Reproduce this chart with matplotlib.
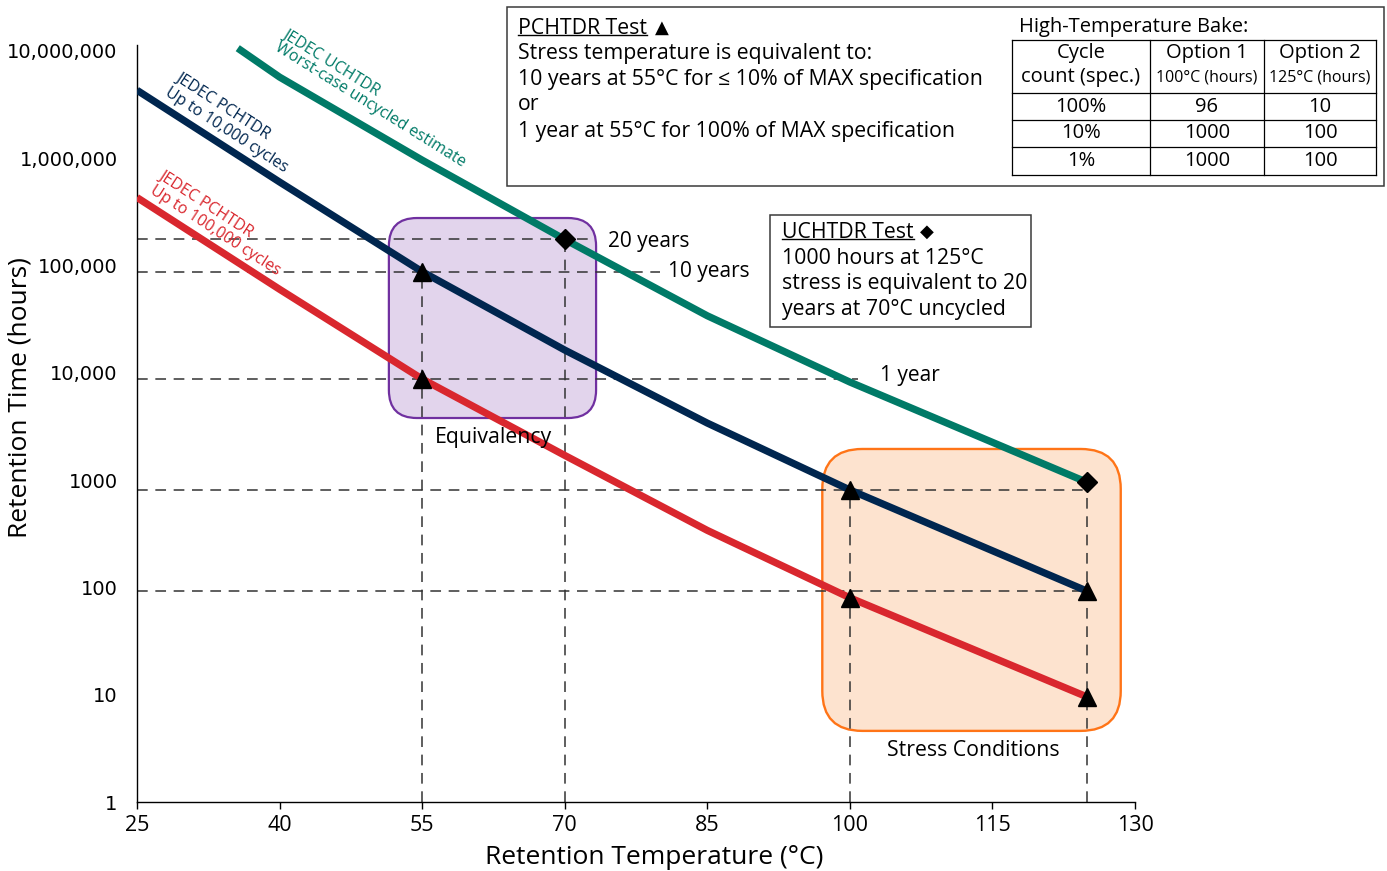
import matplotlib
matplotlib.use('Agg')
import matplotlib.pyplot as plt
from matplotlib.patches import FancyBboxPatch, Rectangle
from matplotlib.lines import Line2D
from matplotlib.transforms import IdentityTransform

plt.rcParams['font.family'] = ['Open Sans', 'DejaVu Sans']

W, H = 1387, 871

# retention curves (temperature in degC, retention in hours)
uch_temp = [35.6, 40, 55, 70, 85, 100, 125]
uch_hours = [1.06e7, 5.7e6, 9.6e5, 1.75e5, 3.4e4, 8200, 950]
pc10k_temp = [25, 40, 55, 70, 85, 100, 125]
pc10k_hours = [4.3e6, 6.0e5, 8.76e4, 1.63e4, 3400, 810, 92]
pc100k_temp = [25, 40, 55, 70, 85, 100, 125]
pc100k_hours = [4.3e5, 6.0e4, 8760, 1700, 340, 80, 9.5]

# test points
tri_temp = [55, 55, 100, 100, 125, 125]
tri_hours = [8.76e4, 8760, 810, 80, 92, 9.5]
dia_temp = [70, 125]
dia_hours = [1.75e5, 950]

# guide lines
hguide_hours = [1.752e5, 8.76e4, 8760, 810, 92]
hguide_end = [73.2, 80.0, 100.9, 125, 125]
vguide_temp = [55, 70, 100, 125]
vguide_top = [8.76e4, 1.75e5, 810, 950]

yticks = [1, 10, 100, 1000, 1e4, 1e5, 1e6, 1e7]
ytick_labels = ['1', '10', '100', '1000', '10,000', '100,000', '1,000,000', '10,000,000']
xticks = [25, 40, 55, 70, 85, 100, 115, 130]

# bake table
bake_head = ['Cycle', 'Option 1', 'Option 2']
bake_sub = ['count (spec.)', '100°C (hours)', '125°C (hours)']
bake_rows = [['100%', '96', '10'], ['10%', '1000', '100'], ['1%', '1000', '100']]

TEAL = '#007A67'
NAVY = '#00264F'
RED = '#D9272E'


def fpx(x, y):
    return (x / W, 1 - y / H)


fig = plt.figure(figsize=(W / 100, H / 100), dpi=100)
ax = fig.add_axes([137 / W, 1 - 802 / H, (1135 - 137) / W, (802 - 45) / H])
ax.set_yscale('log')
ax.set_xlim(25, 130)
ax.set_ylim(1, 1.135e7)

for s in ['top', 'right']:
    ax.spines[s].set_visible(False)
for s in ['left', 'bottom']:
    ax.spines[s].set_linewidth(1.0)

ax.set_yticks(yticks)
ax.set_yticklabels(ytick_labels, family='DejaVu Sans', fontsize=14)
ax.yaxis.set_minor_locator(matplotlib.ticker.NullLocator())
ax.tick_params(axis='y', length=0, pad=14)
ax.set_xticks(xticks)
ax.tick_params(axis='x', length=5, width=1, labelsize=15.5, pad=4)
fig.text(*fpx(654, 857), 'Retention Temperature (°C)', fontsize=19,
         ha='center', va='center')
fig.text(*fpx(20, 398), 'Retention Time (hours)', fontsize=19, rotation=90,
         ha='center', va='center')

# rounded highlight boxes (drawn in pixel space so corners stay round)
def round_box(x0, x1, y0, y1, r, fc, ec, lw):
    (px0, py0) = ax.transData.transform((x0, y0))
    (px1, py1) = ax.transData.transform((x1, y1))
    p = FancyBboxPatch((px0, py0), px1 - px0, py1 - py0,
                       boxstyle='round,pad=0,rounding_size=%d' % r,
                       fc=fc, ec=ec, lw=lw, transform=IdentityTransform(),
                       zorder=1, clip_on=False)
    ax.add_patch(p)

round_box(51.5, 73.3, 3790, 2.77e5, 28, '#E2D4EC', '#7030A0', 1.6)
round_box(97.1, 128.5, 4.6, 1950, 40, '#FDE3CF', '#FF7417', 1.7)

dash_kw = dict(color='#333333', lw=1.1, dashes=(7, 5), zorder=2)
for yv, xe in zip(hguide_hours, hguide_end):
    ax.plot([25, xe], [yv, yv], **dash_kw)
for xv, yt in zip(vguide_temp, vguide_top):
    ax.plot([xv, xv], [1, yt], **dash_kw)

ax.plot(uch_temp, uch_hours, color=TEAL, lw=5.2, solid_capstyle='butt', zorder=3)
ax.plot(pc10k_temp, pc10k_hours, color=NAVY, lw=5.2, solid_capstyle='butt', zorder=3)
ax.plot(pc100k_temp, pc100k_hours, color=RED, lw=5.2, solid_capstyle='butt', zorder=3)

ax.plot(tri_temp, tri_hours, '^', color='black', ms=13, zorder=5, clip_on=False)
ax.plot(dia_temp, dia_hours, 'D', color='black', ms=10.5, zorder=5, clip_on=False)

# curve labels
rot = dict(rotation_mode='anchor', ha='left', va='center', fontsize=11.5)
fig.text(*fpx(284, 33), 'JEDEC UCHTDR', color=TEAL, rotation=-32, **rot)
fig.text(*fpx(276, 46), 'Worst-case uncycled estimate', color=TEAL, rotation=-32, **rot)
fig.text(*fpx(177, 76), 'JEDEC PCHTDR', color=NAVY, rotation=-33, **rot)
fig.text(*fpx(166, 91), 'Up to 10,000 cycles', color=NAVY, rotation=-33, **rot)
fig.text(*fpx(160, 174), 'JEDEC PCHTDR', color=RED, rotation=-33, **rot)
fig.text(*fpx(151, 189), 'Up to 100,000 cycles', color=RED, rotation=-33, **rot)

fig.text(*fpx(608, 242), '20 years', fontsize=15, va='center')
fig.text(*fpx(668, 271), '10 years', fontsize=15, va='center')
fig.text(*fpx(880, 375), '1 year', fontsize=15, va='center')
fig.text(*fpx(493, 437), 'Equivalency', fontsize=15.3, ha='center', va='center')
fig.text(*fpx(973, 750), 'Stress Conditions', fontsize=15.3, ha='center', va='center')

# PCHTDR box
fig.add_artist(Rectangle(fpx(507, 186), (1384 - 507) / W, (186 - 7) / H,
                         transform=fig.transFigure, fill=False, ec='#3a3a3a', lw=1.1))
t_pc = fig.text(*fpx(518, 28), 'PCHTDR Test', fontsize=15.3, va='center')
fig.text(*fpx(655, 28), '▲', fontsize=13, va='center', family='DejaVu Sans')
pc_lines = ['Stress temperature is equivalent to:',
            '10 years at 55°C for ≤ 10% of MAX specification',
            'or',
            '1 year at 55°C for 100% of MAX specification']
for i, s in enumerate(pc_lines):
    fig.text(*fpx(518, 53 + 26 * i), s, fontsize=15.3, va='center')

fig.text(*fpx(1134, 27), 'High-Temperature Bake:', fontsize=14.5, ha='center', va='center')
col_x = [1012, 1150, 1264, 1376]
row_y = [40, 93, 120, 147, 175]
for x in col_x:
    fig.add_artist(Line2D([x / W, x / W], [1 - row_y[0] / H, 1 - row_y[-1] / H],
                          transform=fig.transFigure, color='black', lw=0.9))
for y in row_y:
    fig.add_artist(Line2D([col_x[0] / W, col_x[-1] / W], [1 - y / H, 1 - y / H],
                          transform=fig.transFigure, color='black', lw=0.9))
for j in range(3):
    cx = (col_x[j] + col_x[j + 1]) / 2
    fig.text(*fpx(cx, 53), bake_head[j], fontsize=14.5, ha='center', va='center')
    fig.text(*fpx(cx, 77), bake_sub[j], fontsize=14.5 if j == 0 else 11.5,
             ha='center', va='center')
    for i, row in enumerate(bake_rows):
        cy = (row_y[i + 1] + row_y[i + 2]) / 2
        fig.text(*fpx(cx, cy), row[j], fontsize=14.5, ha='center', va='center')

# UCHTDR box
fig.add_artist(Rectangle(fpx(770, 327), (1031 - 770) / W, (327 - 215) / H,
                         transform=fig.transFigure, fill=False, ec='#3a3a3a', lw=1.1))
t_uc = fig.text(*fpx(782, 232), 'UCHTDR Test', fontsize=15.3, va='center')
fig.text(*fpx(920, 232), '◆', fontsize=13, va='center', family='DejaVu Sans')
uc_lines = ['1000 hours at 125°C', 'stress is equivalent to 20', 'years at 70°C uncycled']
for i, s in enumerate(uc_lines):
    fig.text(*fpx(782, 258 + 26 * i), s, fontsize=15.3, va='center')

# underline the box titles
fig.canvas.draw()
r = fig.canvas.get_renderer()
for t in [t_pc, t_uc]:
    bb = t.get_window_extent(r)
    fig.add_artist(Line2D([bb.x0, bb.x1], [bb.y0 + 3, bb.y0 + 3],
                          transform=IdentityTransform(), color='black', lw=1.0))

fig.savefig('out.png', dpi=100)
